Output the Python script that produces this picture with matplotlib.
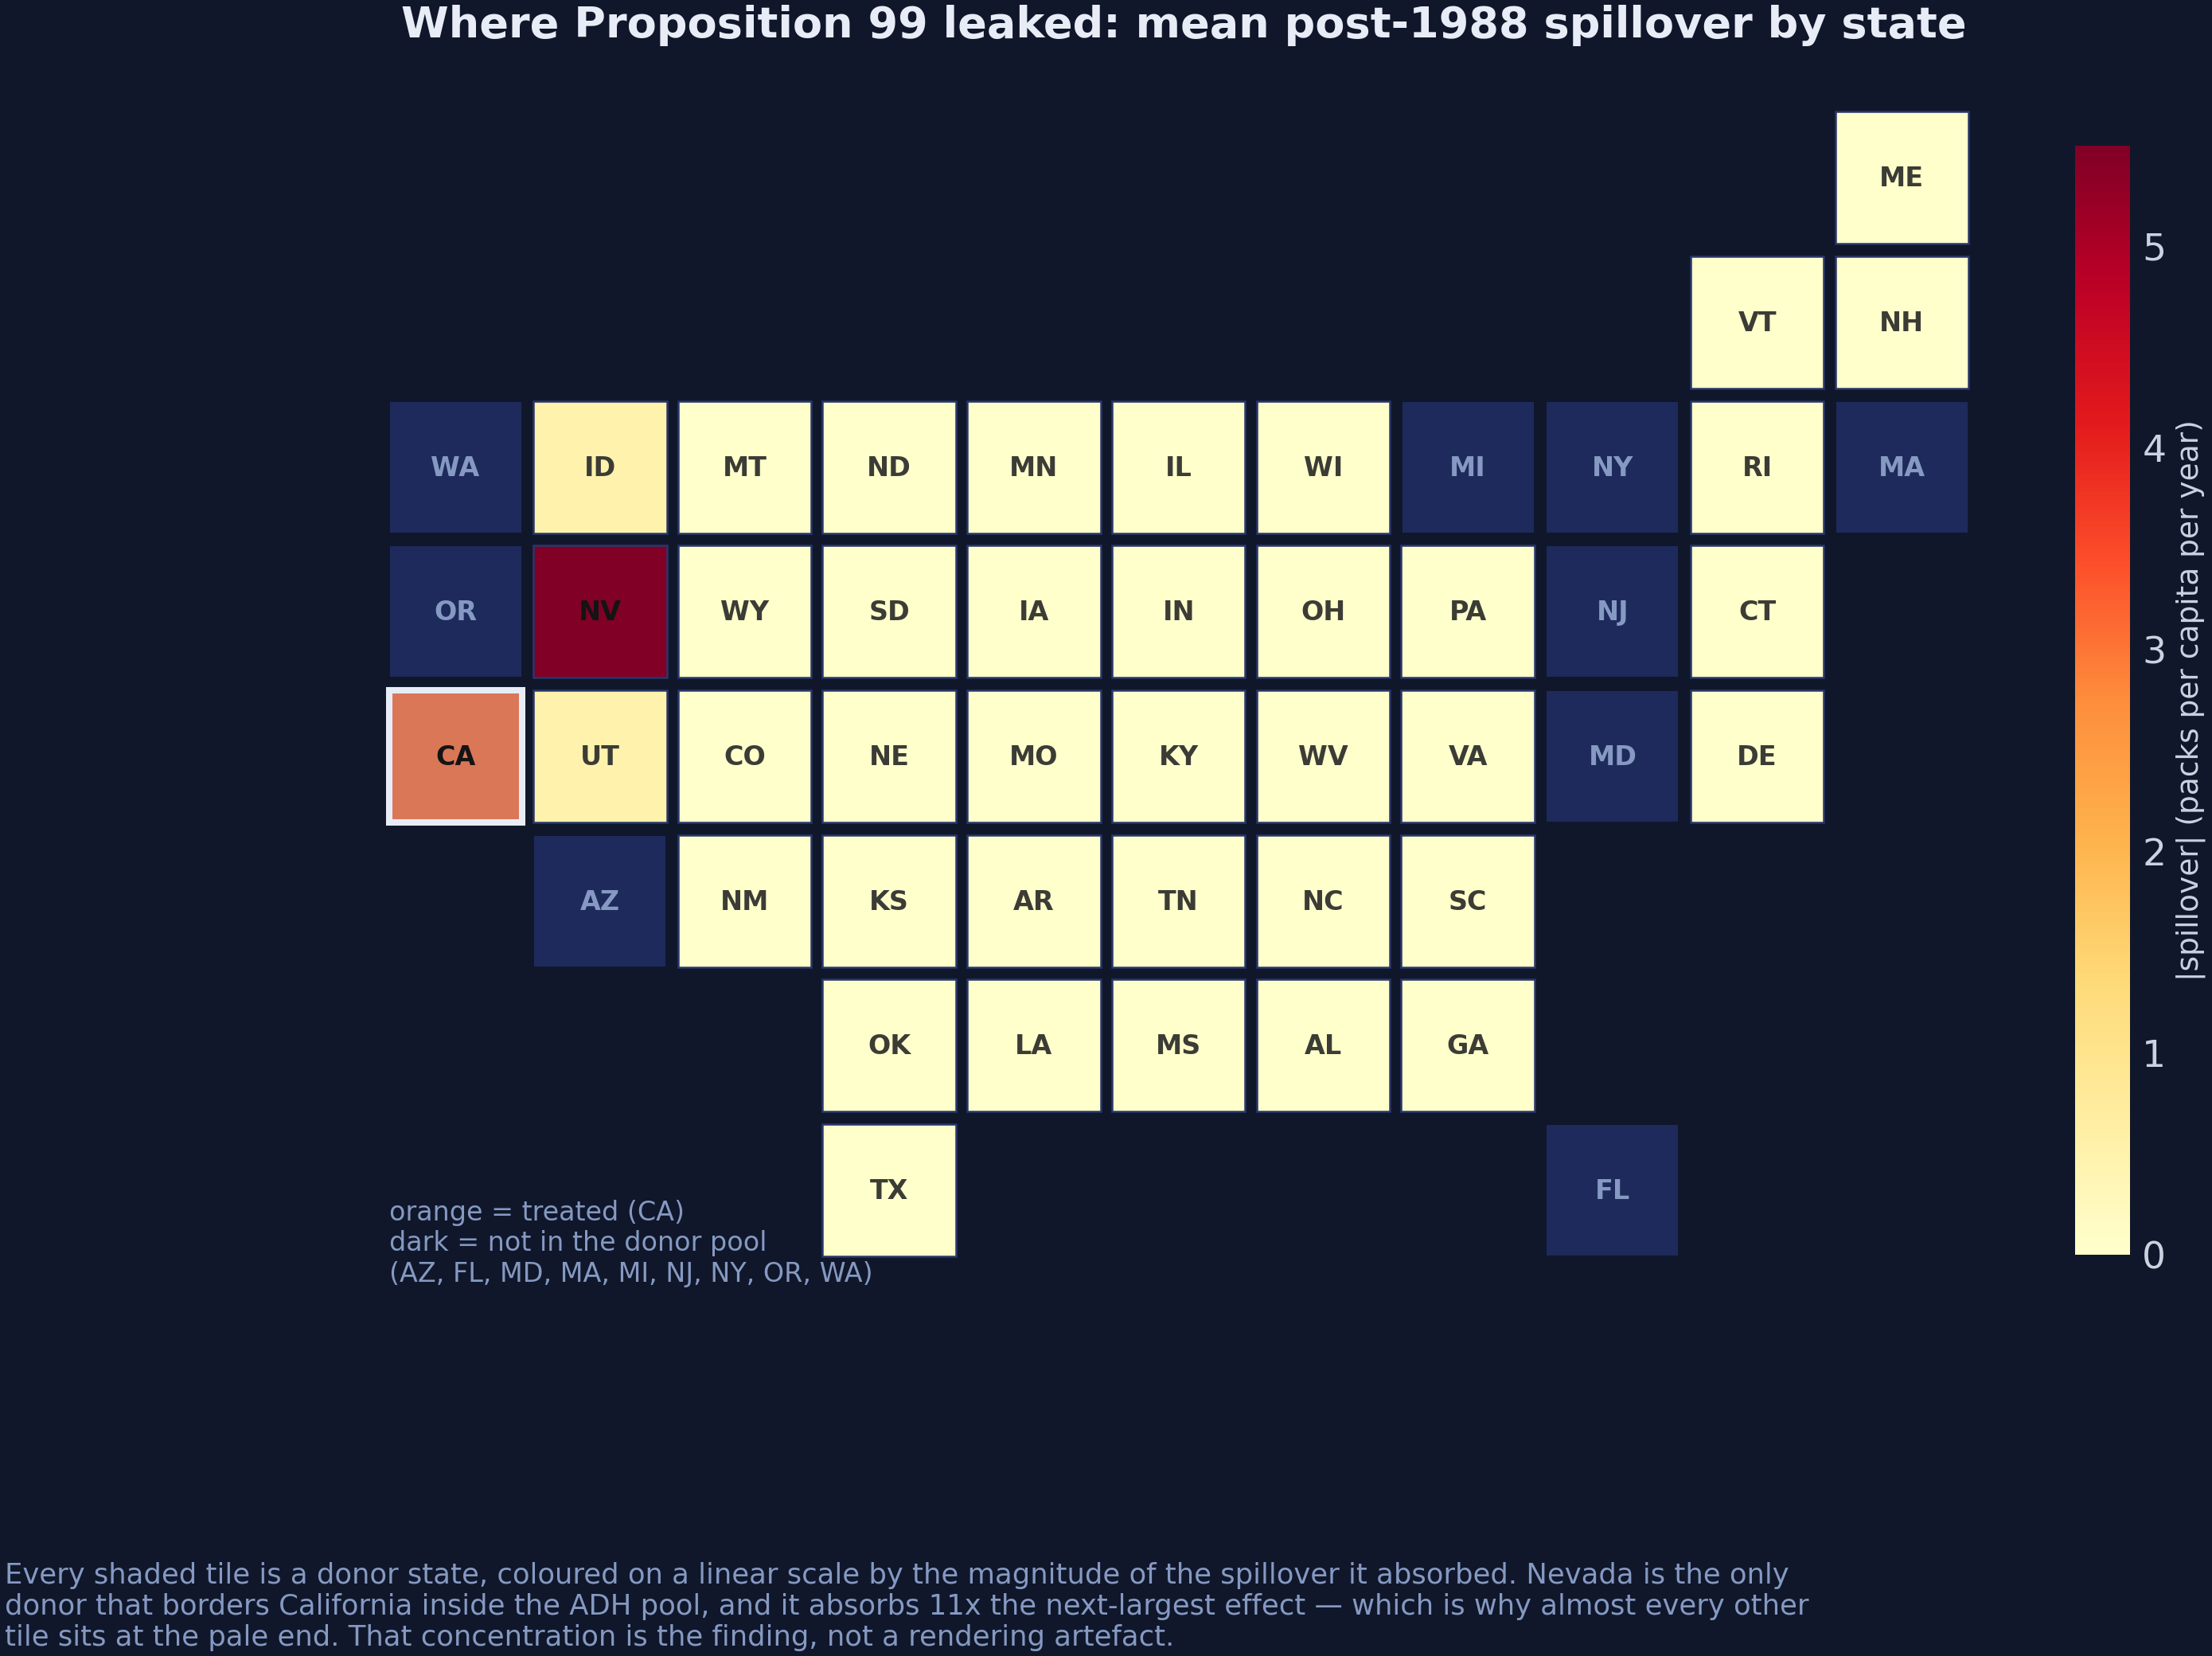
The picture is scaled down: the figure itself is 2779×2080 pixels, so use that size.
# Tile map of mean post-1988 spillover by state
import matplotlib
matplotlib.use('Agg')
import matplotlib.pyplot as plt
from matplotlib.patches import Rectangle
from matplotlib.colors import Normalize
from matplotlib.cm import ScalarMappable

# Tile grid, one string per row (.. = empty cell)
grid_rows = [
    '.. .. .. .. .. .. .. .. .. .. ME',
    '.. .. .. .. .. .. .. .. .. VT NH',
    'WA ID MT ND MN IL WI MI NY RI MA',
    'OR NV WY SD IA IN OH PA NJ CT ..',
    'CA UT CO NE MO KY WV VA MD DE ..',
    '.. AZ NM KS AR TN NC SC .. .. ..',
    '.. .. .. OK LA MS AL GA .. .. ..',
    '.. .. .. TX .. .. .. .. FL .. ..',
]

# Mean absolute spillover (packs per capita per year), estimated from colours
spillover = {'NV': 5.5, 'ID': 0.5, 'UT': 0.5}
small_value = 0.02
treated = ['CA']
not_in_pool = ['AZ', 'FL', 'MD', 'MA', 'MI', 'NJ', 'NY', 'OR', 'WA']
cbar_ticks = [0, 1, 2, 3, 4, 5]
vmax = 5.5

title = 'Where Proposition 99 leaked: mean post-1988 spillover by state'
key_text = 'orange = treated (CA)\ndark = not in the donor pool\n(AZ, FL, MD, MA, MI, NJ, NY, OR, WA)'
footer = ('Every shaded tile is a donor state, coloured on a linear scale by the magnitude of the spillover it absorbed. Nevada is the only\n'
          'donor that borders California inside the ADH pool, and it absorbs 11x the next-largest effect \u2014 which is why almost every other\n'
          'tile sits at the pale end. That concentration is the finding, not a rendering artefact.')

BG = '#10172a'
DARK_TILE = '#1e2a5c'
TEXT_BLUE = '#8599c2'
W, H = 2779, 2080

fig = plt.figure(figsize=(W / 200, H / 200), dpi=200, facecolor=BG)
ax = fig.add_axes([481.2 / W, 1 - 1586.0 / H, 1999 / W, 1453.5 / H])
ax.set_facecolor(BG)
ax.set_xlim(-0.5, 10.5)
ax.set_ylim(7.5, -0.5)
ax.axis('off')

cmap = plt.get_cmap('YlOrRd')
norm = Normalize(0, vmax)


def tile(c, r, w, h, **kw):
    ax.add_patch(Rectangle((c - w / 2, r - h / 2), w, h, **kw))


for r, line in enumerate(grid_rows):
    for c, st in enumerate(line.split()):
        if st == '..':
            continue
        if st in treated:
            tile(c, r, 0.919, 0.91, facecolor='#d97757', edgecolor='#e8ecf6', linewidth=2.9, zorder=3)
            col = '#141414'
        elif st in not_in_pool:
            tile(c, r, 0.908, 0.903, facecolor=DARK_TILE, edgecolor='none')
            col = TEXT_BLUE
        else:
            val = spillover.get(st, small_value)
            tile(c, r, 0.922, 0.914, facecolor=cmap(norm(val)), edgecolor='#28376c', linewidth=0.9)
            col = '#141414' if st == 'NV' else '#3c3c36'
        ax.annotate(st, (c, r), xytext=(0, -0.5), textcoords='offset points', ha='center', va='center',
                    fontsize=12, fontweight='bold', color=col, zorder=4)

fig.text(1487 / W, 1 - 31.5 / H, title, ha='center', va='center', fontsize=19.5, fontweight='bold', color='#e8ecf6')
fig.text(489 / W, 1 - 1562 / H, key_text, ha='left', va='center', fontsize=12, color=TEXT_BLUE)
fig.text(6 / W, 1 - 2018 / H, footer, ha='left', va='center', fontsize=12.75, color=TEXT_BLUE)

cax = fig.add_axes([2607 / W, 1 - 1576 / H, 69 / W, 1393.5 / H])
cb = fig.colorbar(ScalarMappable(norm=norm, cmap=cmap), cax=cax)
cb.set_ticks(cbar_ticks)
cb.outline.set_visible(False)
cb.ax.tick_params(length=0, labelsize=17, labelcolor='#cbd2e1', pad=5.5)
cb.set_label('|spillover| (packs per capita per year)', color='#cbd2e1', fontsize=13.5, labelpad=4.5)

fig.savefig('out.png', dpi=200, facecolor=BG)
